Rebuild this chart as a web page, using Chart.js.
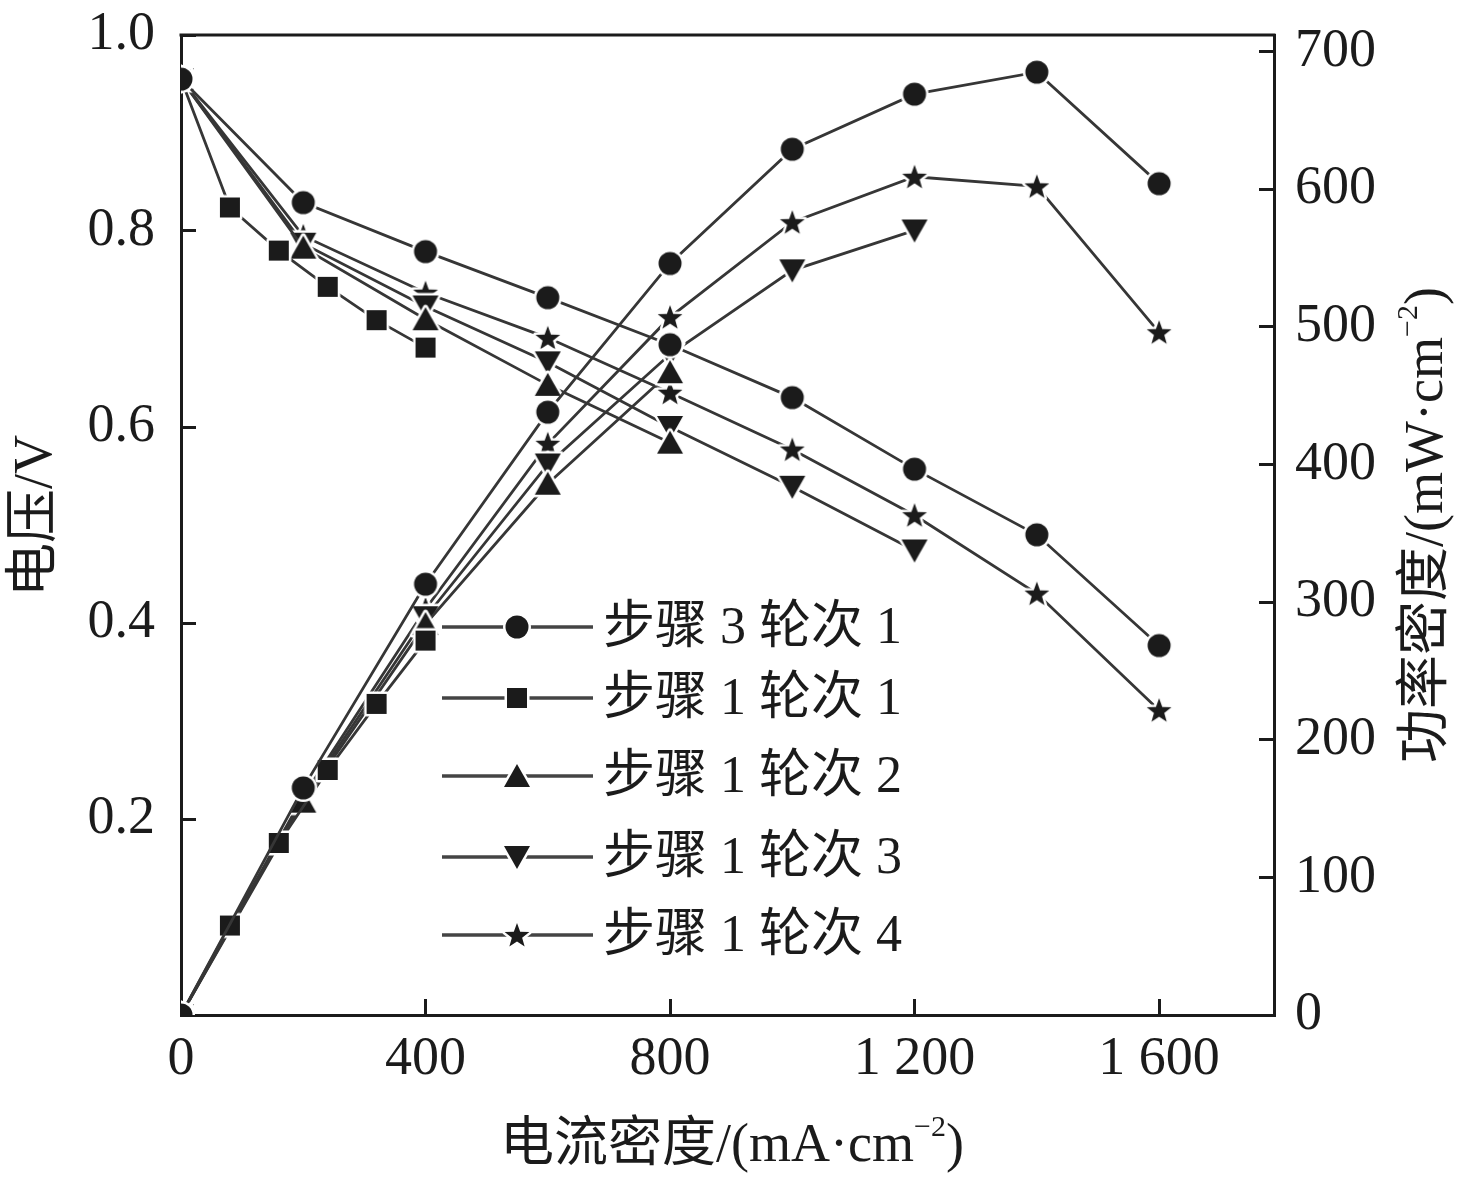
<!DOCTYPE html>
<html>
<head>
<meta charset="utf-8">
<title>电流密度-电压/功率密度</title>
<script src="https://cdn.jsdelivr.net/npm/chart.js@4.4.1/dist/chart.umd.min.js"></script>
<style>
  html, body { margin: 0; padding: 0; background: #fff; }
  #wrap { width: 1476px; height: 1181px; }
</style>
</head>
<body>
<div id="wrap"><canvas id="chart" width="1476" height="1181"></canvas></div>
<script>
// series names (legend order)
const seriesLabels = ['步骤 3 轮次 1', '步骤 1 轮次 1', '步骤 1 轮次 2', '步骤 1 轮次 3', '步骤 1 轮次 4'];
const seriesShapes = ['circle', 'square', 'triUp', 'triDown', 'star'];

// 步骤 3 轮次 1
const currentS3R1 = [0, 200, 400, 600, 800, 1000, 1200, 1400, 1600];
const voltageS3R1 = [0.955, 0.829, 0.779, 0.732, 0.684, 0.630, 0.557, 0.490, 0.377];
const powerS3R1   = [0, 165, 313, 438, 546, 629, 669, 685, 604];

// 步骤 1 轮次 1
const currentS1R1 = [0, 80, 160, 240, 320, 400];
const voltageS1R1 = [0.955, 0.824, 0.780, 0.743, 0.709, 0.681];
const powerS1R1   = [0, 65, 125, 178, 226, 272];

// 步骤 1 轮次 2
const currentS1R2 = [0, 200, 400, 600, 800];
const voltageS1R2 = [0.955, 0.783, 0.710, 0.643, 0.584];
const powerS1R2   = [0, 155, 284, 386, 467];

// 步骤 1 轮次 3
const currentS1R3 = [0, 200, 400, 600, 800, 1000, 1200];
const voltageS1R3 = [0.955, 0.787, 0.723, 0.666, 0.600, 0.539, 0.474];
const powerS1R3   = [0, 157, 289, 400, 480, 541, 570];

// 步骤 1 轮次 4
const currentS1R4 = [0, 200, 400, 600, 800, 1000, 1200, 1400, 1600];
const voltageS1R4 = [0.955, 0.795, 0.737, 0.691, 0.635, 0.577, 0.510, 0.430, 0.311];
const powerS1R4   = [0, 159, 295, 415, 507, 576, 609, 602, 496];

// axes
const xTicks = [0, 400, 800, 1200, 1600];
const xTickLabels = ['0', '400', '800', '1 200', '1 600'];
const leftTicks = [0.2, 0.4, 0.6, 0.8, 1.0];
const rightTicks = [0, 100, 200, 300, 400, 500, 600, 700];

const SERIF = '"Liberation Serif", "Noto Sans CJK SC", serif';
const INK = '#1b1b1b';
const LINE = '#363636';

// filled marker with a white halo (gives the small gap where lines meet markers)
function makeMarker(shape) {
  const halo = 2.5;
  const size = 34;
  const cv = document.createElement('canvas');
  cv.width = size; cv.height = size;
  const g = cv.getContext('2d');
  const c = size / 2;
  g.beginPath();
  if (shape === 'circle') {
    g.arc(c, c, 11.5, 0, Math.PI * 2);
  } else if (shape === 'square') {
    g.rect(c - 10, c - 10, 20, 20);
  } else if (shape === 'triUp') {
    g.moveTo(c, c - 12); g.lineTo(c + 13, c + 11); g.lineTo(c - 13, c + 11); g.closePath();
  } else if (shape === 'triDown') {
    g.moveTo(c, c + 12); g.lineTo(c + 13, c - 11); g.lineTo(c - 13, c - 11); g.closePath();
  } else {
    for (let k = 0; k < 10; k++) {
      const r = k % 2 === 0 ? 13 : 5.4;
      const a = -Math.PI / 2 + k * Math.PI / 5;
      const px = c + r * Math.cos(a), py = c + 1 + r * Math.sin(a);
      if (k === 0) g.moveTo(px, py); else g.lineTo(px, py);
    }
    g.closePath();
  }
  g.lineJoin = 'round';
  g.strokeStyle = '#fff';
  g.lineWidth = halo * 2;
  g.stroke();
  g.fillStyle = INK;
  g.fill();
  return cv;
}
const markers = seriesShapes.map(makeMarker);

const currents = [currentS3R1, currentS1R1, currentS1R2, currentS1R3, currentS1R4];
const voltages = [voltageS3R1, voltageS1R1, voltageS1R2, voltageS1R3, voltageS1R4];
const powers = [powerS3R1, powerS1R1, powerS1R2, powerS1R3, powerS1R4];

function pairs(xs, ys) {
  return xs.map((x, i) => ({ x: x, y: ys[i] }));
}

const datasets = [];
seriesLabels.forEach((name, i) => {
  const common = {
    borderColor: LINE,
    borderWidth: 2.8,
    pointStyle: markers[i],
    pointRadius: 12,
    tension: 0,
    fill: false
  };
  datasets.push(Object.assign({ label: name, data: pairs(currents[i], voltages[i]), yAxisID: 'y' }, common));
  datasets.push(Object.assign({ label: name, data: pairs(currents[i], powers[i]), yAxisID: 'y1' }, common));
});

// titles with a small superscript part
function drawRich(ctx, parts, cx, cy, rot) {
  const mainFont = '54px ' + SERIF;
  const supFont = '30px ' + SERIF;
  ctx.save();
  ctx.translate(cx, cy);
  ctx.rotate(rot);
  ctx.textBaseline = 'middle';
  ctx.textAlign = 'left';
  ctx.fillStyle = INK;
  const widths = parts.map(p => {
    ctx.font = p.sup ? supFont : mainFont;
    return ctx.measureText(p.text).width;
  });
  let x = -widths.reduce((a, b) => a + b, 0) / 2;
  parts.forEach((p, i) => {
    ctx.font = p.sup ? supFont : mainFont;
    ctx.fillText(p.text, x, p.sup ? -19 : 0);
    x += widths[i];
  });
  ctx.restore();
}

const legendRows = [627, 698, 776, 857, 935];

const decorPlugin = {
  id: 'decor',
  afterDraw(chart) {
    const { ctx, chartArea: a } = chart;
    ctx.save();
    // top frame line
    ctx.strokeStyle = INK;
    ctx.lineWidth = 3;
    ctx.beginPath();
    ctx.moveTo(a.left - 1.5, a.top);
    ctx.lineTo(a.right + 1.5, a.top);
    ctx.stroke();

    drawRich(ctx, [{ text: '电流密度/(mA·cm' }, { text: '−2', sup: true }, { text: ')' }], 732, 1147, 0);
    drawRich(ctx, [{ text: '电压/V' }], 37, 516, -Math.PI / 2);
    drawRich(ctx, [{ text: '功率密度/(mW·cm' }, { text: '−2', sup: true }, { text: ')' }], 1428, 525, -Math.PI / 2);

    // legend: line - marker - line, then label
    seriesLabels.forEach((name, i) => {
      const y = legendRows[i];
      ctx.strokeStyle = '#444';
      ctx.lineWidth = 3.5;
      ctx.beginPath();
      ctx.moveTo(442, y);
      ctx.lineTo(593, y);
      ctx.stroke();
      const m = markers[i];
      ctx.drawImage(m, 517 - m.width / 2, y - m.height / 2);
      ctx.fillStyle = INK;
      ctx.font = '52px ' + SERIF;
      ctx.textBaseline = 'middle';
      ctx.textAlign = 'left';
      ctx.fillText(name, 603, y + 2);
    });
    ctx.restore();
  }
};

const tickFont = { family: SERIF, size: 54 };

// keep the label padding of the y axes from pushing the plot area down
function fixYPadding(s, w) {
  s.width = w;
  s.paddingTop = 20;
  s.paddingBottom = 20;
}

new Chart(document.getElementById('chart'), {
  type: 'line',
  data: { datasets: datasets },
  options: {
    responsive: false,
    animation: false,
    devicePixelRatio: 1,
    layout: { padding: { top: 35, right: 0, bottom: 0, left: 0 } },
    plugins: {
      legend: { display: false },
      tooltip: { enabled: false }
    },
    scales: {
      x: {
        type: 'linear',
        min: 0,
        max: 1788,
        afterBuildTicks: s => { s.ticks = xTicks.map(v => ({ value: v })); },
        afterFit: s => { s.height = 166; },
        ticks: {
          autoSkip: false,
          maxRotation: 0,
          padding: 28,
          color: INK,
          font: tickFont,
          callback: (v, i) => xTickLabels[i]
        },
        grid: { drawOnChartArea: false, drawTicks: true, tickLength: -16, color: INK, lineWidth: 3 },
        border: { display: true, color: INK, width: 3 }
      },
      y: {
        type: 'linear',
        position: 'left',
        min: 0,
        max: 1.0,
        afterBuildTicks: s => { s.ticks = leftTicks.map(v => ({ value: v })); },
        afterFit: s => fixYPadding(s, 181),
        ticks: {
          padding: 41,
          color: INK,
          font: tickFont,
          callback: v => v.toFixed(1)
        },
        grid: { drawOnChartArea: false, drawTicks: true, tickLength: -15, color: INK, lineWidth: 3 },
        border: { display: true, color: INK, width: 3 }
      },
      y1: {
        type: 'linear',
        position: 'right',
        min: 0,
        max: 712,
        afterBuildTicks: s => { s.ticks = rightTicks.map(v => ({ value: v })); },
        afterFit: s => fixYPadding(s, 202),
        ticks: {
          padding: 36,
          color: INK,
          font: tickFont,
          callback: v => String(v)
        },
        grid: { drawOnChartArea: false, drawTicks: true, tickLength: -15, color: INK, lineWidth: 3 },
        border: { display: true, color: INK, width: 3 }
      }
    }
  },
  plugins: [decorPlugin]
});
</script>
</body>
</html>
